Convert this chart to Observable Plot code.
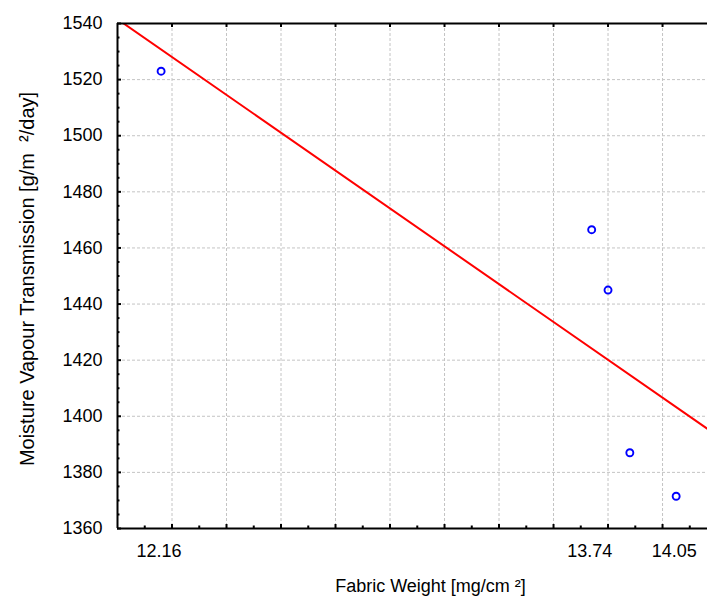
<!DOCTYPE html>
<html>
<head>
<meta charset="utf-8">
<script src="https://cdn.jsdelivr.net/npm/d3@7"></script>
<script src="https://cdn.jsdelivr.net/npm/@observablehq/plot@0.6"></script>
<style>
  html, body { margin: 0; padding: 0; background: #fff; overflow: hidden; }
  svg { max-width: none !important; }
</style>
</head>
<body>
<div id="chart"></div>
<script>
// Data
const fabricWeight = [12.16, 13.74, 13.80, 13.88, 14.05];
const mvt = [1523, 1466.5, 1445, 1387, 1371.5];

// Axis definitions
const xDomain = [12.0, 14.165];
const yDomain = [1360, 1540];
const xTickLabels = [12.16, 13.74, 14.05];
const xGridValues = [12.2, 12.4, 12.6, 12.8, 13.0, 13.2, 13.4, 13.6, 13.8, 14.0];
const xMinorValues = [12.1, 12.3, 12.5, 12.7, 12.9, 13.1, 13.3, 13.5, 13.7, 13.9, 14.1];
const yTickValues = [1360, 1380, 1400, 1420, 1440, 1460, 1480, 1500, 1520, 1540];
const yMinorValues = d3.range(1365, 1540, 5).filter(v => v % 20 !== 0);

const xLabel = "Fabric Weight [mg/cm ²]";
const yLabel = "Moisture Vapour Transmission [g/m  ²/day]";

const points = fabricWeight.map((x, i) => ({x, y: mvt[i]}));

// least-squares fit of the data
const mx = d3.mean(fabricWeight), my = d3.mean(mvt);
const slope = d3.sum(points, p => (p.x - mx) * (p.y - my)) / d3.sum(points, p => (p.x - mx) ** 2);
const fit = xDomain.map(x => ({x, y: my + slope * (x - mx)}));

const W = 707, H = 600, mL = 117, mR = 0, mT = 23, mB = 72;
const frameW = W - mL - mR, frameH = H - mT - mB;
const grid = {stroke: "#c4c4c4", strokeOpacity: 1, strokeWidth: 1, strokeDasharray: "3,2"};

const chart = Plot.plot({
  width: W,
  height: H,
  marginLeft: mL,
  marginRight: mR,
  marginTop: mT,
  marginBottom: mB,
  style: {fontFamily: "'Liberation Sans', Arial, sans-serif", fontSize: "18px", color: "#000", background: "#fff"},
  x: {domain: xDomain},
  y: {domain: yDomain},
  marks: [
    Plot.gridX(xGridValues, grid),
    Plot.gridY(yTickValues, grid),
    Plot.line(fit, {x: "x", y: "y", stroke: "#ff0000", strokeWidth: 2, clip: true}),
    Plot.dot(points, {x: "x", y: "y", r: 3.5, stroke: "#0000ff", strokeWidth: 1.9, fill: "none"}),
    // inward ticks
    Plot.tickX(xGridValues, {x: d => d, insetTop: frameH - 4, stroke: "#000", strokeWidth: 2}),
    Plot.tickX(xMinorValues, {x: d => d, insetTop: frameH - 2.5, stroke: "#000", strokeWidth: 2}),
    Plot.tickX(xGridValues, {x: d => d, insetBottom: frameH - 4, stroke: "#000", strokeWidth: 2}),
    Plot.tickY(yTickValues, {y: d => d, insetRight: frameW - 4, stroke: "#000", strokeWidth: 2}),
    Plot.tickY(yMinorValues, {y: d => d, insetRight: frameW - 2.5, stroke: "#000", strokeWidth: 2}),
    // frame (left, bottom, top; right side runs past the picture)
    Plot.ruleY(yDomain, {stroke: "#000", strokeWidth: 2}),
    Plot.ruleX([xDomain[0]], {stroke: "#000", strokeWidth: 2}),
    // axes labels
    Plot.axisY(yTickValues, {tickSize: 0, tickPadding: 15, fontSize: 18, label: null, tickFormat: d => String(d)}),
    Plot.axisX(xTickLabels, {tickSize: 0, tickPadding: 16, fontSize: 18, label: null, tickFormat: d => d.toFixed(2), dx: -2}),
    Plot.text([xLabel], {frameAnchor: "bottom", textAnchor: "middle", lineAnchor: "middle", dy: 58, dx: 18, fontSize: 18, fill: "#000"}),
    Plot.text([yLabel], {frameAnchor: "left", textAnchor: "middle", lineAnchor: "middle", rotate: -90, dx: -90, dy: 3, fontSize: 20, fill: "#000"})
  ]
});
document.getElementById("chart").appendChild(chart);
</script>
</body>
</html>
